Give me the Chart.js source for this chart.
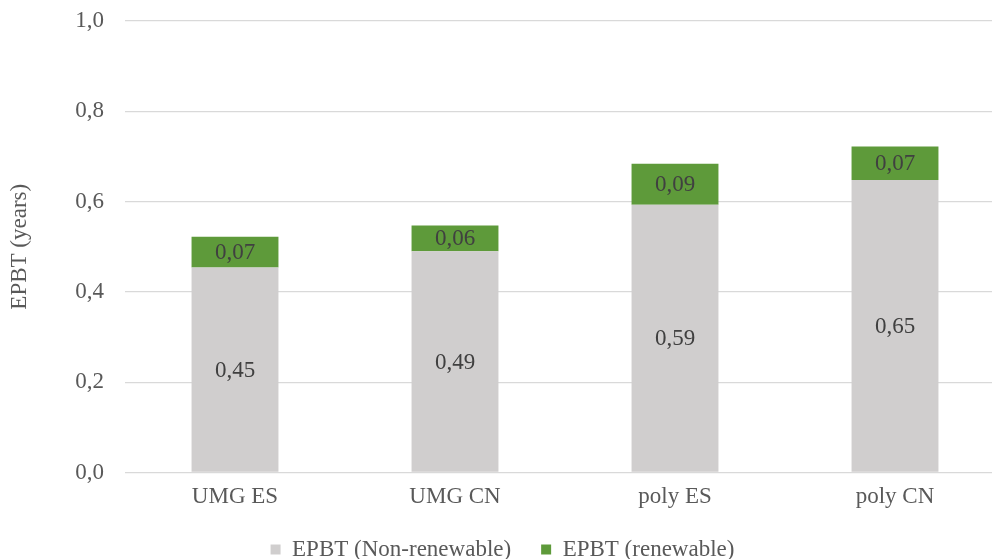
<!DOCTYPE html>
<html>
<head>
<meta charset="utf-8">
<script src="https://cdn.jsdelivr.net/npm/chart.js@4"></script>
<style>
html,body{margin:0;padding:0;overflow:hidden;background:#fff;}
#wrap{width:1012px;height:559px;position:relative;}
</style>
</head>
<body>
<div id="wrap"><canvas id="c"></canvas></div>
<script>
const categories = ["UMG ES", "UMG CN", "poly ES", "poly CN"];
const nonRenewable = [0.454, 0.490, 0.593, 0.648];
const renewable = [0.068, 0.057, 0.091, 0.074];
const seriesNames = ["EPBT (Non-renewable)", "EPBT (renewable)"];
const yTicks = [0, 0.2, 0.4, 0.6, 0.8, 1.0];

const FONT = "'Liberation Serif', 'Times New Roman', serif";
const FS = 23;
const fmt2 = v => v.toFixed(2).replace('.', ',');

const labelPlugin = {
  id: 'barLabels',
  afterDatasetsDraw(chart) {
    const ctx = chart.ctx;
    ctx.save();
    ctx.font = FS + "px " + FONT;
    ctx.fillStyle = '#404040';
    ctx.textAlign = 'center';
    ctx.textBaseline = 'middle';
    chart.data.datasets.forEach((ds, di) => {
      const meta = chart.getDatasetMeta(di);
      meta.data.forEach((bar, i) => {
        const y = (bar.y + bar.base) / 2;
        ctx.fillText(fmt2(ds.data[i]), bar.x, y + 1);
      });
    });
    ctx.restore();
  }
};

new Chart(document.getElementById('c'), {
  type: 'bar',
  data: {
    labels: categories,
    datasets: [
      { label: seriesNames[0], data: nonRenewable, backgroundColor: '#d0cece', borderWidth: 0 },
      { label: seriesNames[1], data: renewable, backgroundColor: '#5e9a3a', borderWidth: 0 }
    ]
  },
  options: {
    responsive: true,
    maintainAspectRatio: false,
    animation: false,
    layout: { padding: { top: 21, right: 7, bottom: -12, left: 0 } },
    datasets: { bar: { categoryPercentage: 1.0, barPercentage: 0.395 } },
    scales: {
      x: {
        stacked: true,
        grid: { display: false, drawTicks: false },
        border: { display: false },
        ticks: { color: '#595959', font: { family: FONT, size: FS }, padding: 11 },
        afterFit: axis => { axis.height = 35.5; }
      },
      y: {
        stacked: true,
        min: 0, max: 1,
        afterBuildTicks: axis => { axis.ticks = yTicks.map(v => ({ value: v })); },
        grid: { color: '#d9d9d9', lineWidth: 1.3, drawTicks: false },
        border: { display: false },
        ticks: {
          color: '#595959', font: { family: FONT, size: FS }, padding: 21,
          callback: v => Number(v).toFixed(1).replace('.', ',')
        },
        title: { display: true, text: 'EPBT (years)', color: '#595959', font: { family: FONT, size: FS }, padding: { top: 6, bottom: 0 } },
        afterFit: axis => { axis.width = 125; axis.paddingTop = 0; axis.paddingBottom = 0; }
      }
    },
    plugins: {
      legend: {
        position: 'bottom',
        labels: { color: '#595959', font: { family: FONT, size: FS }, boxWidth: 10, boxHeight: 10, padding: 30 }
      },
      tooltip: { enabled: false }
    }
  },
  plugins: [labelPlugin]
});
</script>
</body>
</html>
